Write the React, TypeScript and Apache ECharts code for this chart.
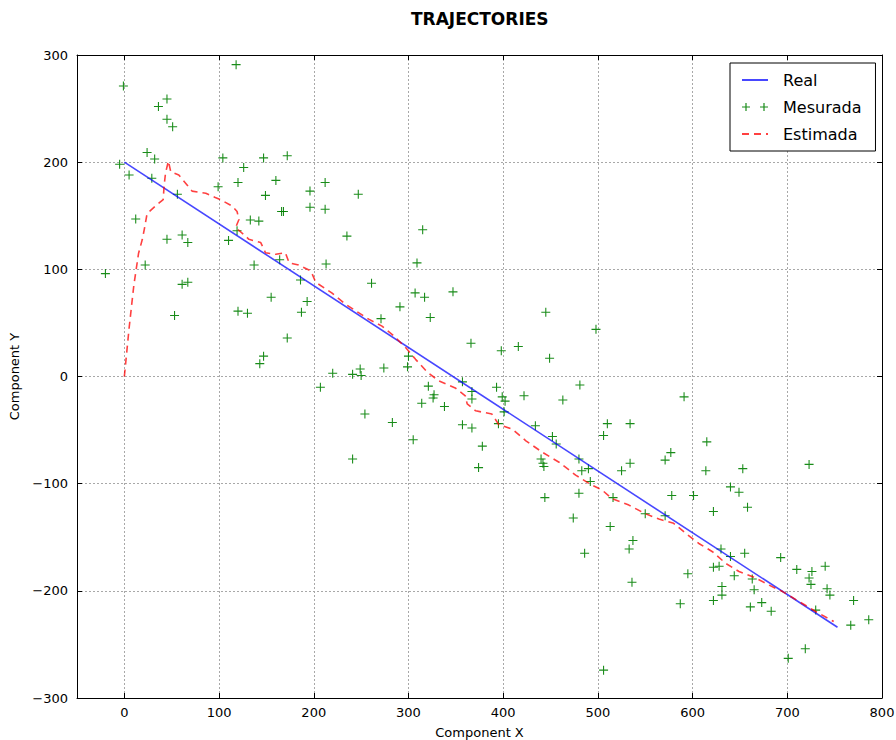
import React, { useEffect, useRef } from "react";
import * as echarts from "echarts";

// Real trajectory
const realX = [0, 753];
const realY = [200, -234];

// Measured points (Mesurada)
const measX = [
  -1, 118, 45, 36, 45, 51, 24, 32, -5, 5, 29, 104, 147, 172, 126, 99, 120, 160, 212, 56, 149, 196, 196, 212, 166, 168, 12, 133, 142, 235, 45, 61, 119,
  67, 110, -20, 22, 61, 67, 53, 137, 213, 164, 186, 155, 193, 187, 120, 130, 172, 147, 143, 220, 207,
  315, 309, 261, 307, 317, 347, 291, 271, 323, 445, 498, 366, 398, 416, 449, 300, 299, 249, 241, 250, 274, 357, 321, 367, 393, 327, 326, 367, 399, 402, 422, 481, 463, 314, 338, 401, 254, 283, 357, 367, 395, 434, 452, 456, 510, 506, 305, 378, 241, 440, 442, 443, 480, 374,
  534, 615, 577, 571, 614, 483, 490, 492, 525, 534, 444, 480, 516, 578, 601, 550, 571, 474, 513, 537, 533, 486, 595, 536,
  653, 723, 640, 649, 658, 622, 630, 640, 655, 693, 622, 628, 644, 663, 710, 726, 723, 725, 740, 742, 745, 631, 631, 622, 665, 673, 661, 683, 587, 730, 770, 786, 767, 719, 701, 506,
  591, 247,
];
const measY = [
  271, 291, 259, 252, 240, 233, 209, 203, 198, 188, 185, 204, 204, 206, 195, 177, 181, 183, 181, 170, 169, 173, 158, 156, 154, 154, 147, 146, 145, 131, 128, 132, 136,
  125, 127, 96, 104, 86, 88, 57, 104, 105, 109, 90, 74, 70, 60, 61, 59, 36, 19, 12, 3, -10,
  137, 106, 87, 78, 74, 79, 65, 54, 55, 60, 44, 31, 24, 28, 17, 19, 9, 7, 2, 1, 8, -5, -9, -14, -10, -17, -20, -21, -19, -23, -18, -8, -22, -25, -28, -33, -35, -43, -45, -48, -44, -46, -56, -63, -44, -55, -59, -65, -77, -77, -81, -84, -77, -85,
  -44, -61, -71, -78, -88, -88, -86, -98, -88, -81, -113, -109, -113, -111, -111, -128, -130, -132, -140, -153, -161, -165, -184, -192,
  -86, -82, -103, -108, -122, -126, -161, -168, -165, -169, -178, -177, -186, -189, -180, -182, -188, -194, -177, -198, -204, -196, -204, -209, -199, -211, -215, -219, -212, -218, -209, -227, -232, -254, -263, -274,
  -19, 170,
];

// Estimated trajectory (Estimada)
const estX = [
  0, 5, 10, 15, 19, 21, 24, 34, 41, 42, 43.5, 46.5, 49, 57.5, 66, 71.5, 86, 96, 101.5, 114, 119, 121, 117.5, 128, 131.5, 144, 149, 160, 170, 174, 184, 197, 202, 219, 233.5,
  258, 272, 284.5, 297, 307.5, 320, 332, 350, 360, 362, 371, 388, 395.5, 409.5, 424, 441, 459, 476.5, 491, 504.5, 515, 532.7, 550, 564.4, 580, 593, 606.6, 621, 635, 649, 666.5, 680.6, 695, 712.5, 730, 749,
];
const estY = [
  0, 45, 85, 115, 128, 137, 152, 160, 165, 178, 190, 201, 191, 188, 179, 173, 171, 167, 165, 159, 154, 146.5, 139, 131, 128, 125, 115.5, 114, 115.5, 106, 104, 98.5, 88, 78, 67.5,
  53.5, 47, 38, 27, 16, 4, -4, -11, -18, -25.5, -32, -35, -45, -49, -60, -70.5, -80, -92, -100, -106, -114, -120, -128, -133, -137, -146.5, -155.8, -163.5, -174.4, -182, -188, -194.6, -200.7, -210, -219.3, -228.6,
];

const FONT = "DejaVu Sans";
const PLUS = "path://M0,4.4 H10 V5.6 H0 Z M4.4,0 H5.6 V10 H4.4 Z";
const PLUS2 =
  "path://M0,0 M26,14 M0,6.4 H8 V7.6 H0 Z M3.4,3 H4.6 V11 H3.4 Z M18,6.4 H26 V7.6 H18 Z M21.4,3 H22.6 V11 H21.4 Z";

const fmt = (v: number) => (v < 0 ? "\u2212" + Math.abs(v) : String(v));

export default function App() {
  const ref = useRef<HTMLDivElement>(null);
  useEffect(() => {
    if (!ref.current) return;
    const chart = echarts.init(ref.current, undefined, { renderer: "svg" });
    const zip = (xs: number[], ys: number[]) => xs.map((x, i) => [x, ys[i]]);
    const axisLine = { show: true, onZero: false, lineStyle: { color: "#000", width: 1 } };
    const tick = { show: true, inside: true, length: 5, lineStyle: { color: "#000", width: 1 } };
    const split = { show: true, lineStyle: { color: "#a8a8a8", width: 1, type: [2, 2] as any } };
    chart.setOption({
      animation: false,
      backgroundColor: "#fff",
      textStyle: { fontFamily: FONT },
      title: {
        text: "TRAJECTORIES",
        left: 411,
        top: 10,
        padding: 0,
        textStyle: { fontFamily: FONT, fontWeight: "bold", fontSize: 17, color: "#000" },
      },
      grid: { left: 77, right: 14, top: 55, bottom: 42, containLabel: false, outerBoundsMode: "none" } as any,
      legend: {
        orient: "vertical",
        left: 730,
        top: 63,
        itemWidth: 26,
        itemHeight: 14,
        itemGap: 11,
        padding: [9, 14, 9, 11],
        borderColor: "#000",
        borderWidth: 1,
        borderRadius: 0,
        backgroundColor: "#fff",
        selectedMode: false,
        textStyle: { fontFamily: FONT, fontSize: 16, color: "#000", padding: [0, 0, 0, 10] },
        data: [
          { name: "Real", itemStyle: { opacity: 0 } },
          { name: "Mesurada", icon: PLUS2 },
          { name: "Estimada", itemStyle: { opacity: 0 } },
        ],
      },
      xAxis: [
        {
          type: "value",
          min: -50,
          max: 800,
          splitNumber: 8,
          position: "bottom",
          axisLine,
          axisTick: tick,
          splitLine: split,
          axisLabel: { color: "#000", fontSize: 13, fontFamily: FONT, margin: 8, formatter: fmt, showMinLabel: false },
          name: "Component X",
          nameLocation: "middle",
          nameGap: 28,
          nameTextStyle: { color: "#000", fontSize: 13, fontFamily: FONT },
        },
        {
          type: "value",
          min: -50,
          max: 800,
          splitNumber: 8,
          position: "top",
          axisLine,
          axisTick: tick,
          splitLine: { show: false },
          axisLabel: { show: false },
        },
      ],
      yAxis: [
        {
          type: "value",
          min: -300,
          max: 300,
          interval: 100,
          position: "left",
          axisLine,
          axisTick: tick,
          splitLine: split,
          axisLabel: { color: "#000", fontSize: 13, fontFamily: FONT, margin: 9, formatter: fmt },
          name: "Component Y",
          nameLocation: "middle",
          nameGap: 48,
          nameRotate: 90,
          nameTextStyle: { color: "#000", fontSize: 13, fontFamily: FONT },
        },
        {
          type: "value",
          min: -300,
          max: 300,
          interval: 100,
          position: "right",
          axisLine,
          axisTick: tick,
          splitLine: { show: false },
          axisLabel: { show: false },
        },
      ],
      series: [
        {
          name: "Real",
          type: "line",
          data: zip(realX, realY),
          symbol: "none",
          lineStyle: { color: "rgba(0,0,255,0.72)", width: 1.6 },
          itemStyle: { color: "rgba(0,0,255,0.72)" },
        },
        {
          name: "Mesurada",
          type: "scatter",
          data: zip(measX, measY),
          symbol: PLUS,
          symbolSize: 9,
          itemStyle: { color: "#008000", opacity: 0.9 },
        },
        {
          name: "Estimada",
          type: "line",
          data: zip(estX, estY),
          symbol: "none",
          lineStyle: { color: "rgba(255,0,0,0.75)", width: 1.6, type: [7, 5] as any },
          itemStyle: { color: "rgba(255,0,0,0.75)" },
        },
      ],
    });
    return () => chart.dispose();
  }, []);
  return <div ref={ref} style={{ position: "fixed", left: 0, top: 0, width: 896, height: 740 }} />;
}
